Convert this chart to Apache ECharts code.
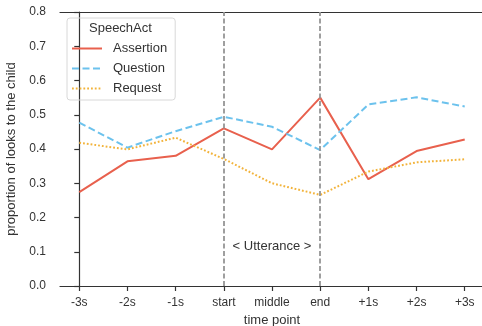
<!DOCTYPE html>
<html><head><meta charset="utf-8">
<script src="https://cdn.jsdelivr.net/npm/echarts@6/dist/echarts.min.js"></script>
<style>html,body{margin:0;padding:0;background:#fff}#c{width:482px;height:326px}</style>
</head><body><div id="c"></div>
<script>
const categories = ['-3s','-2s','-1s','start','middle','end','+1s','+2s','+3s'];
const assertion = [0.274, 0.364, 0.380, 0.460, 0.399, 0.550, 0.312, 0.394, 0.428];
const question  = [0.477, 0.404, 0.452, 0.494, 0.465, 0.397, 0.530, 0.551, 0.524];
const request   = [0.418, 0.399, 0.433, 0.371, 0.300, 0.266, 0.334, 0.361, 0.370];
const utteranceStart = 'start', utteranceEnd = 'end';
const utteranceLabel = '< Utterance >';
const utteranceLabelY = 0.117;

const idx = categories.map((c,i)=>i);
const pairs = arr => arr.map((v,i)=>[i,v]);
const font = '"Liberation Sans", Arial, sans-serif';
const axisColor = '#333';

const chart = echarts.init(document.getElementById('c'), null, {renderer:'canvas'});
chart.setOption({
  animation:false,
  textStyle:{fontFamily:font},
  title:{text:'SpeechAct', left:89, top:22, padding:0,
    textStyle:{fontSize:13, fontWeight:'normal', color:'#333', fontFamily:font}},
  legend:{orient:'vertical', left:67, top:18, padding:[24,8,5,4],
    borderColor:'#d8d8d8', borderWidth:1, borderRadius:3,
    itemWidth:30, itemHeight:14, itemGap:7,
    itemStyle:{color:'rgba(0,0,0,0)', borderColor:'rgba(0,0,0,0)', borderWidth:0, opacity:0},
    textStyle:{fontSize:13, color:'#333', fontFamily:font, padding:[0,0,0,6]},
    data:['Assertion','Question','Request']},
  grid:{left:60, top:12, width:424, height:274, containLabel:false, outerBoundsMode:'none'},
  xAxis:[{
    type:'value', min:-0.4, max:8.4, position:'bottom',
    name:'time point', nameLocation:'middle', nameGap:28,
    nameTextStyle:{fontSize:13, color:'#333', fontFamily:font},
    axisLine:{show:true, onZero:false, lineStyle:{color:axisColor, width:1.2}},
    axisTick:{show:true, length:5, customValues:idx, lineStyle:{color:axisColor, width:1.2}},
    axisLabel:{show:true, customValues:idx, margin:11, fontSize:12, color:'#333', fontFamily:font,
      formatter:v=>categories[Math.round(v)]},
    splitLine:{show:false}
  },{
    type:'value', min:-0.4, max:8.4, position:'top',
    axisLine:{show:true, onZero:false, lineStyle:{color:axisColor, width:1.2}},
    axisTick:{show:false}, axisLabel:{show:false}, splitLine:{show:false}
  }],
  yAxis:{
    type:'value', min:0, max:0.8, interval:0.1,
    name:'proportion of looks to the child', nameLocation:'middle', nameGap:37,
    nameTextStyle:{fontSize:13, color:'#333', fontFamily:font},
    axisLine:{show:true, lineStyle:{color:axisColor, width:1.2}},
    axisTick:{show:true, length:5, lineStyle:{color:axisColor, width:1.2}},
    axisLabel:{margin:14, fontSize:12, color:'#333', fontFamily:font, formatter:v=>v.toFixed(1)},
    splitLine:{show:false}
  },
  series:[
    {name:'Assertion', type:'line', data:pairs(assertion), symbol:'none',
     itemStyle:{color:'#e8604d'}, lineStyle:{color:'#e8604d', width:2, type:'solid'},
     markLine:{silent:true, symbol:'none', label:{show:false},
       lineStyle:{color:'#959595', width:1.8, type:[5,2.5]},
       data:[{xAxis:categories.indexOf(utteranceStart)},{xAxis:categories.indexOf(utteranceEnd)}]},
     markPoint:{silent:true, symbol:'rect', symbolSize:1, itemStyle:{color:'rgba(0,0,0,0)'},
       label:{show:true, position:'inside', formatter:utteranceLabel, color:'#333', fontSize:13, fontFamily:font},
       data:[{coord:[(categories.indexOf(utteranceStart)+categories.indexOf(utteranceEnd))/2, utteranceLabelY]}]}
    },
    {name:'Question', type:'line', data:pairs(question), symbol:'none',
     itemStyle:{color:'#6cc2ed'}, lineStyle:{color:'#6cc2ed', width:2, type:[7,3.5]}},
    {name:'Request', type:'line', data:pairs(request), symbol:'none',
     itemStyle:{color:'#f2b33b'}, lineStyle:{color:'#f2b33b', width:2, type:[1.8,2]}}
  ]
});
</script></body></html>
